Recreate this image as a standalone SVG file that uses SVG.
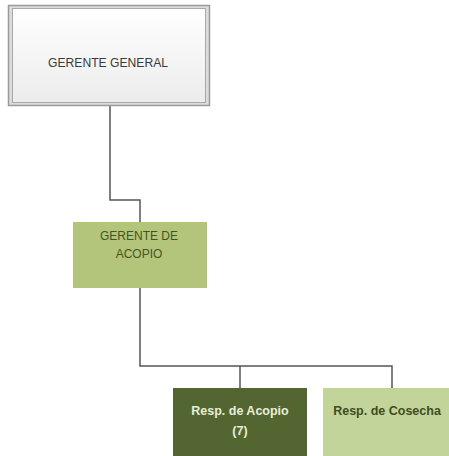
<svg xmlns="http://www.w3.org/2000/svg" width="449" height="456" viewBox="0 0 449 456">
<defs>
<linearGradient id="gg" x1="0" y1="0" x2="0" y2="1">
<stop offset="0" stop-color="#ffffff"/>
<stop offset="1" stop-color="#ececec"/>
</linearGradient>
</defs>
<style>
.lbl{font-family:"Liberation Sans",Arial,sans-serif;font-size:12px;text-anchor:middle}
.sm{font-size:12.5px;font-weight:bold}
.conn{fill:none;stroke:#555555;stroke-width:1.5}
</style>
<rect width="449" height="456" fill="#ffffff"/>
<g id="connectors">
<path class="conn" d="M110,105 V200 H140 V222"/>
<path class="conn" d="M140,288 V366 H392 V388"/>
<path class="conn" d="M240,366 V388"/>
</g>
<g id="gerente-general">
<rect x="8.5" y="5.5" width="201" height="100" fill="#dcdcdc" stroke="#9a9a9a" stroke-width="1.5"/>
<rect x="12.5" y="8.5" width="193" height="94" fill="url(#gg)" stroke="#a8a8a8" stroke-width="1"/>
<text class="lbl" x="108" y="67" fill="#3a3a3a" textLength="120" lengthAdjust="spacingAndGlyphs">GERENTE GENERAL</text>
</g>
<g id="gerente-acopio">
<rect x="73" y="222" width="134" height="66" fill="#b3c47b"/>
<text class="lbl" x="139" y="240" fill="#44561f">GERENTE DE</text>
<text class="lbl" x="139" y="258" fill="#44561f">ACOPIO</text>
</g>
<g id="resp-acopio">
<rect x="173" y="388" width="134" height="68" fill="#536530"/>
<text class="lbl sm" x="240" y="415" fill="#e8eed8">Resp. de Acopio</text>
<text class="lbl sm" x="240" y="435" fill="#e8eed8">(7)</text>
</g>
<g id="resp-cosecha">
<rect x="323" y="388" width="126" height="68" fill="#c3d49b"/>
<text class="lbl sm" x="387" y="415" fill="#3e4d1e">Resp. de Cosecha</text>
</g>
</svg>
